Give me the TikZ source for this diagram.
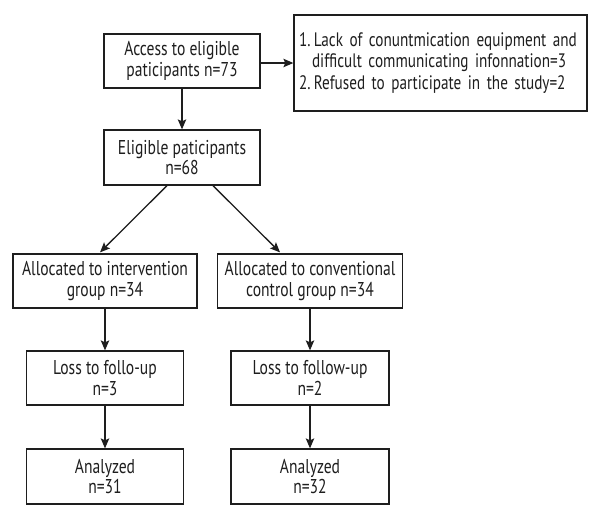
\documentclass[tikz,border=0pt]{standalone}
\usepackage{fontspec}
\setmainfont{PT Sans}[FakeStretch=0.78]
\usetikzlibrary{arrows.meta}
\definecolor{ink}{HTML}{1E1E1E}
\tikzset{
  box/.style={draw=ink, line width=1.3pt, text=ink, align=center, inner sep=0pt,
    font=\fontsize{20}{20.5}\selectfont},
  arr/.style={draw=ink, line width=1.3pt, -{Stealth[length=10pt,width=8.5pt,inset=2pt]}}
}
\begin{document}
\begin{tikzpicture}[x=1pt,y=1pt]
\useasboundingbox[fill=white] (0,0) rectangle (600,-520);
\node[box, minimum width=156pt, minimum height=54pt] (A) at (182,-61) {Access to eligible\\paticipants n=73};
\node[box, minimum width=293pt, minimum height=96pt, align=left, text width=283pt, inner xsep=5pt,
  font=\fontsize{19.5}{21.5}\selectfont] (B) at (440.5,-63)
  {1.\,Lack of conuntmication equipment and\\\hspace*{13pt}difficult communicating infonnation=3\\2.\,Refused to participate in the study=2};
\node[box, minimum width=156pt, minimum height=55pt] (E) at (182,-157.5) {Eligible paticipants\\n=68};
\node[box, minimum width=184pt, minimum height=54pt] (I) at (105,-281) {Allocated to intervention\\group n=34};
\node[box, minimum width=185pt, minimum height=54pt] (C) at (310,-281) {Allocated to conventional\\control group n=34};
\node[box, minimum width=157pt, minimum height=54pt] (L1) at (105,-378) {Loss to follo-up\\n=3};
\node[box, minimum width=158pt, minimum height=54pt] (L2) at (310,-378) {Loss to follow-up\\n=2};
\node[box, minimum width=157pt, minimum height=55pt] (N1) at (105,-476.5) {Analyzed\\n=31};
\node[box, minimum width=158pt, minimum height=55pt] (N2) at (310,-476.5) {Analyzed\\n=32};
\draw[arr] (A.east |- 0,-63) -- (B.west |- 0,-63);
\draw[arr] (A.south) -- (E.north);
\draw[arr] ([xshift=-15pt]E.south) -- ([xshift=-5pt,yshift=1pt]I.north);
\draw[arr] ([xshift=31pt]E.south) -- ([xshift=-30pt,yshift=1pt]C.north);
\draw[arr] (I.south) -- (L1.north);
\draw[arr] (C.south) -- (L2.north);
\draw[arr] (L1.south) -- (N1.north);
\draw[arr] (L2.south) -- (N2.north);
\end{tikzpicture}
\end{document}
